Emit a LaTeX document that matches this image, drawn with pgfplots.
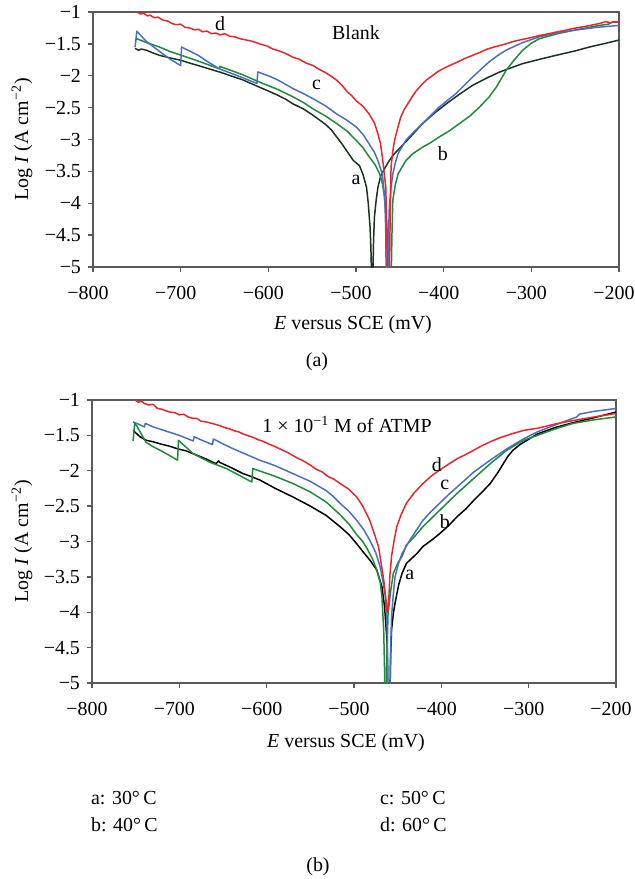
\documentclass[border=0pt]{standalone}
\usepackage{fontspec}
\setmainfont{Liberation Serif}
\usepackage{pgfplots}
\pgfplotsset{compat=1.18}

\definecolor{cred}{HTML}{E8262C}
\definecolor{cblue}{HTML}{4A6FC0}
\definecolor{cgreen}{HTML}{1F8A3B}
\definecolor{cdark}{HTML}{1A3320}
\definecolor{frame}{HTML}{5A5A5A}

\pgfplotsset{
  panel/.style={
    scale only axis,
    xmin=-800, xmax=-200, ymin=-5, ymax=-1,
    xtick={-800,-700,...,-200},
    xticklabels={−800,−700,−600,−500,−400,−300,−200},
    ytick={-5,-4.5,...,-1},
    yticklabels={−5,−4.5,−4,−3.5,−3,−2.5,−2,−1.5,−1},
    tick align=outside, xtick pos=left, ytick pos=left,
    major tick length=2.5bp,
    axis line style={frame, line width=0.7pt},
    every tick/.style={frame, line width=0.7pt},
    tick label style={font=\fontsize{10}{12}\selectfont},
    xticklabel style={yshift=-3.5bp, xshift=-2.5bp},
    every axis plot/.append style={line width=0.75pt, no markers, line join=round},
  },
}

\begin{document}
\begin{tikzpicture}[font=\fontsize{10}{12}\selectfont]
\path[use as bounding box] (0,0) rectangle (317.5bp,-439.5bp);

% ---------- (a) Blank ----------
\begin{axis}[panel, at={(46.5bp,-133.5bp)}, anchor=south west,
  width=263bp, height=127.5bp]
\addplot[cdark] coordinates {
(-752,-1.57) (-748,-1.60) (-745,-1.58) (-739,-1.60) (-732,-1.64) (-724,-1.68)
(-712,-1.72) (-699,-1.76) (-690,-1.80) (-680,-1.84) (-668,-1.89) (-656,-1.94)
(-643,-2.00) (-630,-2.06) (-620,-2.12) (-610,-2.18) (-600,-2.24) (-590,-2.30)
(-580,-2.37) (-572,-2.44) (-560,-2.52) (-549,-2.62) (-541,-2.70) (-535,-2.76)
(-528,-2.85) (-522,-2.96) (-517,-3.05) (-512,-3.15) (-507,-3.25) (-503,-3.33)
(-496,-3.41) (-492,-3.55) (-488,-3.75) (-486,-4.0) (-484,-4.37) (-483,-4.7)
(-482,-5.3) (-481,-5.3) (-480,-4.6) (-479,-4.22) (-477,-3.95) (-475,-3.75)
(-472,-3.58) (-468,-3.47) (-462,-3.33) (-456,-3.22) (-449,-3.12) (-436,-2.93)
(-424,-2.75) (-410,-2.58) (-397,-2.44) (-382,-2.29) (-367,-2.15) (-350,-2.03)
(-336,-1.94) (-322,-1.87) (-310,-1.81) (-290,-1.74) (-272,-1.68) (-250,-1.61)
(-234,-1.55) (-215,-1.49) (-200,-1.44)};
\addplot[cgreen] coordinates {
(-752,-1.45) (-750,-1.42) (-737,-1.49) (-724,-1.55) (-712,-1.62) (-699,-1.68)
(-680,-1.77) (-656,-1.89) (-655,-1.85) (-654,-1.86) (-642,-1.92) (-630,-1.98)
(-610,-2.10) (-590,-2.21) (-572,-2.33) (-560,-2.42) (-549,-2.52) (-535,-2.63)
(-522,-2.75) (-510,-2.87) (-500,-3.01) (-492,-3.13) (-485,-3.27) (-478,-3.40)
(-473,-3.54) (-470,-3.68) (-468,-3.85) (-465,-4.3) (-463,-4.8) (-462,-5.3)
(-460,-5.3) (-459,-4.5) (-458,-3.95) (-455,-3.70) (-452,-3.54) (-447,-3.42)
(-443,-3.33) (-435,-3.22) (-424,-3.12) (-415,-3.05) (-405,-2.96) (-393,-2.86)
(-382,-2.75) (-370,-2.63) (-359,-2.49) (-348,-2.33) (-340,-2.18) (-334,-2.04)
(-329,-1.92) (-320,-1.76) (-310,-1.60) (-300,-1.49) (-291,-1.42) (-270,-1.34)
(-253,-1.29) (-222,-1.21) (-212,-1.19) (-208,-1.16) (-200,-1.16)};
\addplot[cblue] coordinates {
(-752,-1.55) (-750,-1.30) (-740,-1.45) (-724,-1.62) (-712,-1.74) (-700,-1.84)
(-699,-1.55) (-690,-1.61) (-680,-1.68) (-668,-1.79) (-656,-1.89) (-635,-2.00)
(-613,-2.12) (-612,-1.94) (-600,-2.00) (-590,-2.06) (-572,-2.20) (-560,-2.28)
(-549,-2.36) (-535,-2.47) (-522,-2.60) (-510,-2.70) (-500,-2.80) (-492,-2.92)
(-485,-3.07) (-479,-3.20) (-475,-3.33) (-470,-3.54) (-467,-3.95) (-466,-4.5)
(-465.5,-5.3) (-464,-5.3) (-463,-4.6) (-462,-4.06) (-460,-3.75) (-458,-3.54)
(-455,-3.36) (-452,-3.22) (-443,-3.01) (-434,-2.88) (-424,-2.75) (-405,-2.49)
(-386,-2.28) (-367,-2.02) (-348,-1.78) (-338,-1.68) (-329,-1.60) (-310,-1.48)
(-291,-1.39) (-272,-1.33) (-253,-1.29) (-225,-1.24) (-200,-1.21)};
\addplot[cred] coordinates {
(-750,-1.00) (-746,-1.03) (-742,-1.02) (-738,-1.06) (-735,-1.05) (-730,-1.09)
(-726,-1.08) (-720,-1.13) (-715,-1.14) (-710,-1.18) (-705,-1.20) (-700,-1.19)
(-695,-1.24) (-690,-1.25) (-684,-1.28) (-680,-1.27) (-675,-1.31) (-670,-1.30)
(-665,-1.34) (-660,-1.33) (-655,-1.36) (-650,-1.34) (-644,-1.38) (-638,-1.39)
(-632,-1.42) (-625,-1.44) (-618,-1.46) (-610,-1.50) (-602,-1.53) (-595,-1.58)
(-590,-1.60) (-582,-1.64) (-576,-1.68) (-572,-1.71) (-565,-1.74) (-557,-1.80)
(-549,-1.84) (-542,-1.90) (-535,-1.95) (-528,-2.01) (-522,-2.07) (-516,-2.15)
(-510,-2.25) (-505,-2.31) (-500,-2.39) (-492,-2.48) (-485,-2.60) (-479,-2.74)
(-475,-2.91) (-472,-3.07) (-470,-3.27) (-468,-3.50) (-466,-3.75) (-465,-4.4)
(-464,-5.3) (-462,-5.3) (-461,-4.2) (-460,-3.43) (-458,-3.18) (-456,-3.01)
(-452,-2.80) (-449,-2.65) (-445,-2.53) (-440,-2.42) (-435,-2.31) (-431,-2.23)
(-425,-2.14) (-420,-2.07) (-412,-1.99) (-405,-1.92) (-395,-1.85) (-385,-1.79)
(-376,-1.73) (-367,-1.68) (-358,-1.63) (-350,-1.58) (-340,-1.54) (-329,-1.50)
(-320,-1.46) (-310,-1.43) (-300,-1.40) (-291,-1.37) (-280,-1.34) (-270,-1.31)
(-262,-1.29) (-253,-1.26) (-240,-1.23) (-222,-1.18) (-215,-1.15) (-210,-1.17)
(-205,-1.15) (-200,-1.16)};
\node at (axis cs:-500,-1.33) {Blank};
\node at (axis cs:-655,-1.18) {d};
\node at (axis cs:-545,-2.15) {c};
\node at (axis cs:-500,-3.64) {a};
\node at (axis cs:-401,-3.22) {b};
\end{axis}

% ---------- (b) ATMP ----------
\begin{axis}[panel, at={(46bp,-341.5bp)}, anchor=south west,
  width=262bp, height=141.5bp]
\addplot[black] coordinates {
(-753,-1.43) (-745,-1.52) (-738,-1.57) (-730,-1.59) (-722,-1.62) (-712,-1.65)
(-702,-1.69) (-692,-1.72) (-684,-1.76) (-670,-1.83) (-658,-1.90) (-655,-1.86)
(-654,-1.88) (-640,-1.96) (-627,-2.04) (-618,-2.08) (-608,-2.13) (-590,-2.25)
(-570,-2.37) (-550,-2.50) (-532,-2.63) (-516,-2.79) (-506,-2.90) (-497,-3.03)
(-490,-3.14) (-482,-3.26) (-474,-3.40) (-471,-3.52) (-468,-3.64) (-465,-3.92)
(-462,-4.44) (-461,-5.3) (-459,-5.3) (-458,-4.6) (-457,-4.25) (-455,-4.02)
(-453,-3.87) (-449,-3.62) (-445,-3.45) (-440,-3.31) (-434,-3.24) (-428,-3.17)
(-421,-3.07) (-410,-2.97) (-402,-2.89) (-392,-2.78) (-382,-2.65) (-372,-2.54)
(-363,-2.42) (-354,-2.31) (-344,-2.18) (-335,-2.02) (-329,-1.90) (-324,-1.80)
(-318,-1.71) (-310,-1.63) (-302,-1.57) (-290,-1.48) (-270,-1.39) (-249,-1.32)
(-225,-1.25) (-200,-1.17)};
\addplot[cgreen] coordinates {
(-753,-1.58) (-751,-1.32) (-745,-1.45) (-738,-1.60) (-730,-1.66) (-722,-1.71)
(-712,-1.78) (-702,-1.85) (-701,-1.57) (-692,-1.67) (-684,-1.76) (-665,-1.88)
(-646,-1.97) (-632,-2.06) (-617,-2.16) (-616,-1.97) (-604,-2.02) (-590,-2.08)
(-570,-2.18) (-550,-2.30) (-532,-2.44) (-516,-2.62) (-506,-2.75) (-497,-2.90)
(-490,-3.00) (-485,-3.10) (-479,-3.24) (-474,-3.40) (-470,-3.58) (-468,-3.78)
(-466,-4.25) (-465,-4.81) (-464.5,-5.3) (-463,-5.3) (-462.5,-4.72) (-461,-4.01)
(-458,-3.70) (-455,-3.45) (-450,-3.31) (-445,-3.21) (-440,-3.05) (-430,-2.92)
(-421,-2.79) (-412,-2.68) (-402,-2.56) (-392,-2.44) (-382,-2.32) (-372,-2.21)
(-363,-2.11) (-344,-1.90) (-325,-1.71) (-306,-1.57) (-290,-1.50) (-279,-1.45)
(-265,-1.39) (-249,-1.33) (-225,-1.28) (-200,-1.24)};
\addplot[cblue] coordinates {
(-753,-1.31) (-747,-1.34) (-740,-1.38) (-739,-1.33) (-730,-1.38) (-720,-1.42)
(-710,-1.46) (-700,-1.50) (-692,-1.54) (-684,-1.58) (-683,-1.52) (-672,-1.58)
(-662,-1.63) (-661,-1.55) (-650,-1.62) (-640,-1.68) (-625,-1.76) (-608,-1.85)
(-590,-1.93) (-570,-2.04) (-550,-2.15) (-532,-2.28) (-524,-2.36) (-516,-2.46)
(-506,-2.57) (-497,-2.70) (-489,-2.83) (-482,-2.98) (-475,-3.16) (-470,-3.36)
(-467,-3.55) (-464,-3.78) (-462,-4.25) (-461,-5.3) (-459,-5.3) (-458,-4.5)
(-457,-4.06) (-455,-3.75) (-453,-3.50) (-449,-3.31) (-445,-3.17) (-436,-2.98)
(-428,-2.83) (-421,-2.70) (-412,-2.58) (-402,-2.46) (-392,-2.34) (-382,-2.23)
(-372,-2.12) (-363,-2.02) (-344,-1.85) (-325,-1.69) (-306,-1.55) (-290,-1.45)
(-265,-1.33) (-245,-1.24) (-242,-1.20) (-225,-1.16) (-200,-1.12)};
\addplot[cred] coordinates {
(-751,-1.00) (-747,-1.03) (-743,-1.02) (-740,-1.05) (-735,-1.07) (-730,-1.06)
(-725,-1.12) (-720,-1.13) (-716,-1.15) (-711,-1.17) (-705,-1.18) (-700,-1.21)
(-695,-1.20) (-690,-1.24) (-684,-1.26) (-680,-1.26) (-675,-1.30) (-669,-1.31)
(-663,-1.33) (-657,-1.35) (-652,-1.37) (-648,-1.39) (-642,-1.41) (-636,-1.44)
(-632,-1.45) (-627,-1.48) (-620,-1.51) (-615,-1.53) (-610,-1.56) (-605,-1.58)
(-598,-1.62) (-592,-1.65) (-585,-1.69) (-578,-1.73) (-572,-1.77) (-565,-1.82)
(-558,-1.86) (-550,-1.92) (-543,-1.98) (-536,-2.02) (-530,-2.08) (-523,-2.12)
(-516,-2.18) (-506,-2.26) (-497,-2.37) (-490,-2.50) (-482,-2.70) (-477,-2.88)
(-472,-3.07) (-469,-3.30) (-466,-3.54) (-463,-3.87) (-462,-4.00) (-461,-3.95)
(-460,-3.78) (-459,-3.50) (-457,-3.21) (-454,-2.98) (-451,-2.79) (-446,-2.62)
(-440,-2.46) (-431,-2.31) (-421,-2.18) (-412,-2.08) (-402,-1.99) (-392,-1.91)
(-382,-1.83) (-372,-1.77) (-363,-1.71) (-354,-1.65) (-344,-1.59) (-332,-1.53)
(-320,-1.48) (-306,-1.43) (-290,-1.40) (-270,-1.34) (-249,-1.29) (-225,-1.24)
(-200,-1.19)};
\node at (axis cs:-508,-1.35) {1 × 10\textsuperscript{−1} M of ATMP};
\node at (axis cs:-405,-1.92) {d};
\node at (axis cs:-396,-2.20) {c};
\node at (axis cs:-396,-2.72) {b};
\node at (axis cs:-436,-3.47) {a};
\end{axis}

% ---------- labels outside the axes ----------
\node[rotate=90] at (11bp,-69.75bp) {Log \textit{I} (A cm\textsuperscript{−2})};
\node[rotate=90] at (11bp,-270.75bp) {Log \textit{I} (A cm\textsuperscript{−2})};
\node at (176.5bp,-162.5bp) {\textit{E} versus SCE (mV)};
\node at (173bp,-371.5bp) {\textit{E} versus SCE (mV)};
\node at (158.5bp,-181bp) {(a)};
\node at (159bp,-433.5bp) {(b)};
\node[anchor=west] at (42bp,-399bp) {a: 30°\,C};
\node[anchor=west] at (42bp,-412.5bp) {b: 40°\,C};
\node[anchor=west] at (186.5bp,-399bp) {c: 50°\,C};
\node[anchor=west] at (186.5bp,-412.5bp) {d: 60°\,C};
\end{tikzpicture}
\end{document}
